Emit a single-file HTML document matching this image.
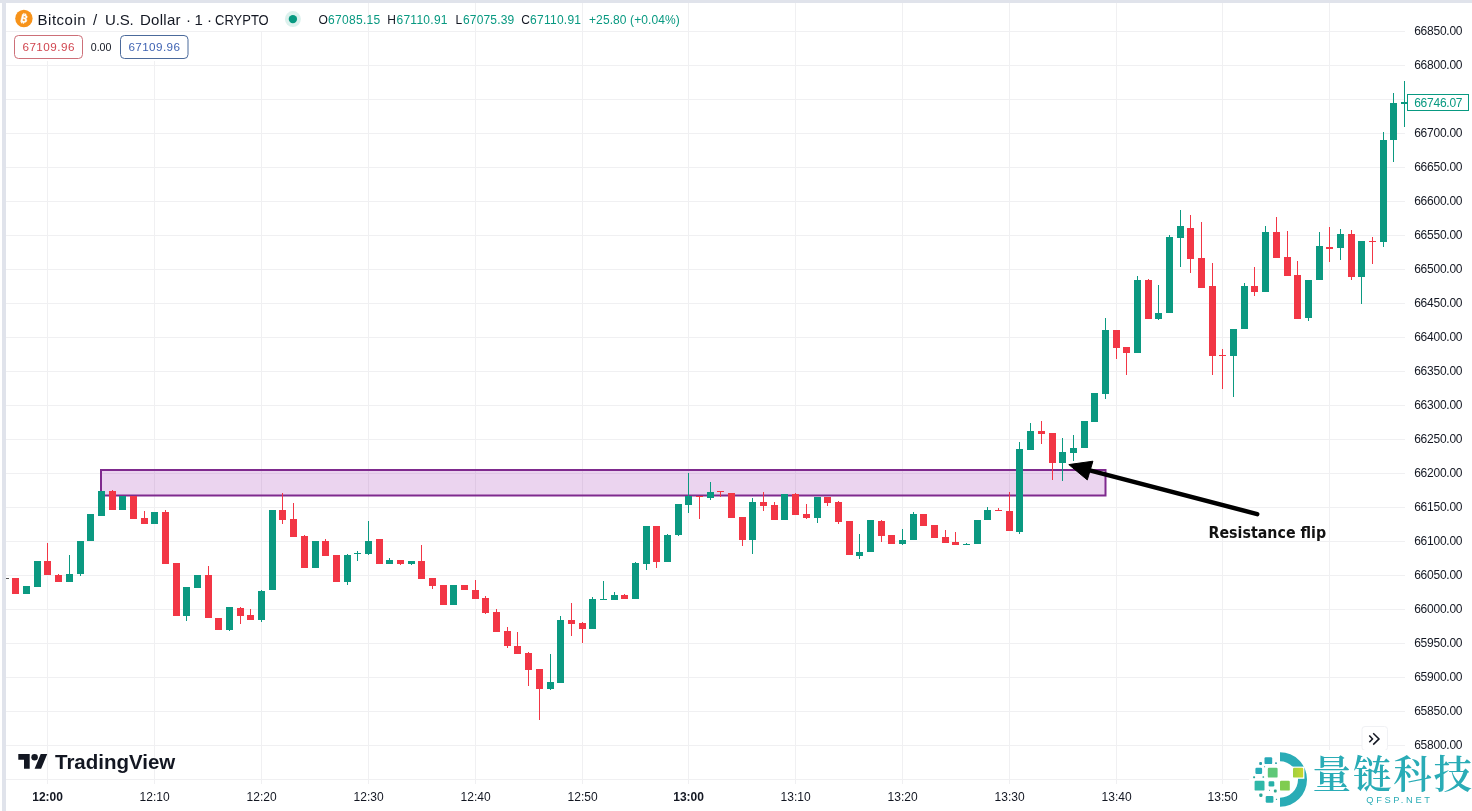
<!DOCTYPE html>
<html lang="en"><head><meta charset="utf-8"><title>BTCUSD chart</title>
<style>
html,body{margin:0;padding:0;background:#fff;}
body{width:1472px;height:811px;overflow:hidden;position:relative;font-family:"Liberation Sans",sans-serif;}
svg{position:absolute;left:0;top:0;display:block}
text{font-family:"Liberation Sans",sans-serif;}
.pl{font-size:12px;fill:#131722;text-anchor:end}
.tl{font-size:12px;fill:#131722;text-anchor:middle}
.oh{font-size:12px;fill:#131722}
.ov{font-size:12px;fill:#089981}
.wm{font-family:"Noto Serif CJK SC","Liberation Serif",serif;font-weight:600;font-size:38.5px;letter-spacing:1.8px;fill:#2aacb6}
.wm2{font-size:9.3px;fill:#2aacb6}
.note{font-family:"DejaVu Sans","Liberation Sans",sans-serif;font-weight:700;font-size:15px;fill:#111}
</style></head><body>
<svg width="1472" height="811" viewBox="0 0 1472 811">
<rect x="0" y="0" width="1472" height="811" fill="#fff"/>
<g fill="#f0f0f2" shape-rendering="crispEdges">
<rect x="6" y="31" width="1399" height="1"/>
<rect x="6" y="65" width="1399" height="1"/>
<rect x="6" y="99" width="1399" height="1"/>
<rect x="6" y="133" width="1399" height="1"/>
<rect x="6" y="167" width="1399" height="1"/>
<rect x="6" y="201" width="1399" height="1"/>
<rect x="6" y="235" width="1399" height="1"/>
<rect x="6" y="269" width="1399" height="1"/>
<rect x="6" y="303" width="1399" height="1"/>
<rect x="6" y="337" width="1399" height="1"/>
<rect x="6" y="371" width="1399" height="1"/>
<rect x="6" y="405" width="1399" height="1"/>
<rect x="6" y="439" width="1399" height="1"/>
<rect x="6" y="473" width="1399" height="1"/>
<rect x="6" y="507" width="1399" height="1"/>
<rect x="6" y="541" width="1399" height="1"/>
<rect x="6" y="575" width="1399" height="1"/>
<rect x="6" y="609" width="1399" height="1"/>
<rect x="6" y="643" width="1399" height="1"/>
<rect x="6" y="677" width="1399" height="1"/>
<rect x="6" y="711" width="1399" height="1"/>
<rect x="6" y="745" width="1399" height="1"/>
<rect x="6" y="779" width="1399" height="1"/>
<rect x="47" y="3" width="1" height="781"/>
<rect x="154" y="3" width="1" height="781"/>
<rect x="261" y="3" width="1" height="781"/>
<rect x="368" y="3" width="1" height="781"/>
<rect x="475" y="3" width="1" height="781"/>
<rect x="582" y="3" width="1" height="781"/>
<rect x="688" y="3" width="1" height="781"/>
<rect x="795" y="3" width="1" height="781"/>
<rect x="902" y="3" width="1" height="781"/>
<rect x="1009" y="3" width="1" height="781"/>
<rect x="1116" y="3" width="1" height="781"/>
<rect x="1222" y="3" width="1" height="781"/>
<rect x="1329" y="3" width="1" height="781"/>
</g>
<rect x="0" y="0" width="1472" height="3" fill="#e0e3eb"/>
<rect x="2" y="3" width="4" height="808" fill="#e0e3eb"/>
<rect x="101" y="470" width="1004.5" height="25.5" fill="rgba(156,39,176,0.2)" stroke="#7f2a8e" stroke-width="2"/>
<g shape-rendering="crispEdges">
<rect x="6" y="578" width="3" height="1" fill="#555"/>
<rect x="15" y="578" width="1" height="16" fill="#f23645"/>
<rect x="12" y="578" width="7" height="16" fill="#f23645"/>
<rect x="26" y="586" width="1" height="8" fill="#0b9981"/>
<rect x="23" y="586" width="7" height="8" fill="#0b9981"/>
<rect x="37" y="561" width="1" height="26" fill="#0b9981"/>
<rect x="34" y="561" width="7" height="26" fill="#0b9981"/>
<rect x="47" y="543" width="1" height="32" fill="#f23645"/>
<rect x="44" y="561" width="7" height="14" fill="#f23645"/>
<rect x="58" y="574" width="1" height="8" fill="#f23645"/>
<rect x="55" y="575" width="7" height="7" fill="#f23645"/>
<rect x="69" y="555" width="1" height="27" fill="#0b9981"/>
<rect x="66" y="574" width="7" height="8" fill="#0b9981"/>
<rect x="80" y="541" width="1" height="35" fill="#0b9981"/>
<rect x="77" y="541" width="7" height="33" fill="#0b9981"/>
<rect x="90" y="514" width="1" height="27" fill="#0b9981"/>
<rect x="87" y="514" width="7" height="27" fill="#0b9981"/>
<rect x="101" y="491" width="1" height="25" fill="#0b9981"/>
<rect x="98" y="491" width="7" height="25" fill="#0b9981"/>
<rect x="112" y="490" width="1" height="20" fill="#f23645"/>
<rect x="109" y="491" width="7" height="19" fill="#f23645"/>
<rect x="122" y="496" width="1" height="14" fill="#0b9981"/>
<rect x="119" y="496" width="7" height="14" fill="#0b9981"/>
<rect x="133" y="496" width="1" height="23" fill="#f23645"/>
<rect x="130" y="496" width="7" height="23" fill="#f23645"/>
<rect x="144" y="511" width="1" height="13" fill="#f23645"/>
<rect x="141" y="518" width="7" height="6" fill="#f23645"/>
<rect x="154" y="512" width="1" height="12" fill="#0b9981"/>
<rect x="151" y="512" width="7" height="12" fill="#0b9981"/>
<rect x="165" y="510" width="1" height="54" fill="#f23645"/>
<rect x="162" y="512" width="7" height="52" fill="#f23645"/>
<rect x="176" y="563" width="1" height="53" fill="#f23645"/>
<rect x="173" y="563" width="7" height="53" fill="#f23645"/>
<rect x="186" y="587" width="1" height="34" fill="#0b9981"/>
<rect x="183" y="587" width="7" height="29" fill="#0b9981"/>
<rect x="197" y="575" width="1" height="13" fill="#0b9981"/>
<rect x="194" y="575" width="7" height="13" fill="#0b9981"/>
<rect x="208" y="566" width="1" height="52" fill="#f23645"/>
<rect x="205" y="575" width="7" height="43" fill="#f23645"/>
<rect x="218" y="618" width="1" height="12" fill="#f23645"/>
<rect x="215" y="618" width="7" height="12" fill="#f23645"/>
<rect x="229" y="607" width="1" height="24" fill="#0b9981"/>
<rect x="226" y="607" width="7" height="23" fill="#0b9981"/>
<rect x="240" y="607" width="1" height="17" fill="#f23645"/>
<rect x="237" y="608" width="7" height="8" fill="#f23645"/>
<rect x="250" y="609" width="1" height="11" fill="#f23645"/>
<rect x="247" y="615" width="7" height="5" fill="#f23645"/>
<rect x="261" y="590" width="1" height="32" fill="#0b9981"/>
<rect x="258" y="591" width="7" height="29" fill="#0b9981"/>
<rect x="272" y="510" width="1" height="80" fill="#0b9981"/>
<rect x="269" y="510" width="7" height="80" fill="#0b9981"/>
<rect x="282" y="493" width="1" height="31" fill="#f23645"/>
<rect x="279" y="510" width="7" height="10" fill="#f23645"/>
<rect x="293" y="503" width="1" height="34" fill="#f23645"/>
<rect x="290" y="519" width="7" height="18" fill="#f23645"/>
<rect x="304" y="535" width="1" height="33" fill="#f23645"/>
<rect x="301" y="536" width="7" height="32" fill="#f23645"/>
<rect x="315" y="541" width="1" height="27" fill="#0b9981"/>
<rect x="312" y="541" width="7" height="27" fill="#0b9981"/>
<rect x="325" y="539" width="1" height="17" fill="#f23645"/>
<rect x="322" y="541" width="7" height="15" fill="#f23645"/>
<rect x="336" y="555" width="1" height="27" fill="#f23645"/>
<rect x="333" y="555" width="7" height="27" fill="#f23645"/>
<rect x="347" y="554" width="1" height="31" fill="#0b9981"/>
<rect x="344" y="555" width="7" height="27" fill="#0b9981"/>
<rect x="357" y="551" width="1" height="10" fill="#0b9981"/>
<rect x="354" y="553" width="7" height="1" fill="#0b9981"/>
<rect x="368" y="521" width="1" height="34" fill="#0b9981"/>
<rect x="365" y="541" width="7" height="13" fill="#0b9981"/>
<rect x="379" y="539" width="1" height="25" fill="#f23645"/>
<rect x="376" y="539" width="7" height="25" fill="#f23645"/>
<rect x="389" y="558" width="1" height="6" fill="#0b9981"/>
<rect x="386" y="560" width="7" height="4" fill="#0b9981"/>
<rect x="400" y="560" width="1" height="5" fill="#f23645"/>
<rect x="397" y="560" width="7" height="4" fill="#f23645"/>
<rect x="411" y="561" width="1" height="4" fill="#0b9981"/>
<rect x="408" y="561" width="7" height="3" fill="#0b9981"/>
<rect x="421" y="545" width="1" height="34" fill="#f23645"/>
<rect x="418" y="561" width="7" height="18" fill="#f23645"/>
<rect x="432" y="578" width="1" height="11" fill="#f23645"/>
<rect x="429" y="578" width="7" height="8" fill="#f23645"/>
<rect x="443" y="585" width="1" height="20" fill="#f23645"/>
<rect x="440" y="585" width="7" height="20" fill="#f23645"/>
<rect x="453" y="585" width="1" height="20" fill="#0b9981"/>
<rect x="450" y="585" width="7" height="20" fill="#0b9981"/>
<rect x="464" y="585" width="1" height="5" fill="#f23645"/>
<rect x="461" y="585" width="7" height="5" fill="#f23645"/>
<rect x="475" y="580" width="1" height="19" fill="#f23645"/>
<rect x="472" y="590" width="7" height="9" fill="#f23645"/>
<rect x="485" y="596" width="1" height="18" fill="#f23645"/>
<rect x="482" y="598" width="7" height="15" fill="#f23645"/>
<rect x="496" y="609" width="1" height="23" fill="#f23645"/>
<rect x="493" y="612" width="7" height="20" fill="#f23645"/>
<rect x="507" y="627" width="1" height="21" fill="#f23645"/>
<rect x="504" y="631" width="7" height="15" fill="#f23645"/>
<rect x="517" y="632" width="1" height="22" fill="#f23645"/>
<rect x="514" y="646" width="7" height="8" fill="#f23645"/>
<rect x="528" y="652" width="1" height="34" fill="#f23645"/>
<rect x="525" y="653" width="7" height="17" fill="#f23645"/>
<rect x="539" y="669" width="1" height="51" fill="#f23645"/>
<rect x="536" y="669" width="7" height="20" fill="#f23645"/>
<rect x="550" y="654" width="1" height="36" fill="#0b9981"/>
<rect x="547" y="682" width="7" height="7" fill="#0b9981"/>
<rect x="560" y="616" width="1" height="67" fill="#0b9981"/>
<rect x="557" y="620" width="7" height="63" fill="#0b9981"/>
<rect x="571" y="603" width="1" height="33" fill="#f23645"/>
<rect x="568" y="620" width="7" height="4" fill="#f23645"/>
<rect x="582" y="622" width="1" height="21" fill="#f23645"/>
<rect x="579" y="623" width="7" height="6" fill="#f23645"/>
<rect x="592" y="597" width="1" height="32" fill="#0b9981"/>
<rect x="589" y="599" width="7" height="30" fill="#0b9981"/>
<rect x="603" y="581" width="1" height="19" fill="#0b9981"/>
<rect x="600" y="599" width="7" height="1" fill="#0b9981"/>
<rect x="614" y="592" width="1" height="8" fill="#0b9981"/>
<rect x="611" y="595" width="7" height="5" fill="#0b9981"/>
<rect x="624" y="594" width="1" height="5" fill="#f23645"/>
<rect x="621" y="595" width="7" height="4" fill="#f23645"/>
<rect x="635" y="562" width="1" height="37" fill="#0b9981"/>
<rect x="632" y="563" width="7" height="36" fill="#0b9981"/>
<rect x="646" y="526" width="1" height="44" fill="#0b9981"/>
<rect x="643" y="526" width="7" height="38" fill="#0b9981"/>
<rect x="656" y="526" width="1" height="42" fill="#f23645"/>
<rect x="653" y="526" width="7" height="36" fill="#f23645"/>
<rect x="667" y="534" width="1" height="28" fill="#0b9981"/>
<rect x="664" y="535" width="7" height="27" fill="#0b9981"/>
<rect x="678" y="504" width="1" height="32" fill="#0b9981"/>
<rect x="675" y="504" width="7" height="31" fill="#0b9981"/>
<rect x="688" y="473" width="1" height="40" fill="#0b9981"/>
<rect x="685" y="496" width="7" height="9" fill="#0b9981"/>
<rect x="699" y="496" width="1" height="23" fill="#f23645"/>
<rect x="696" y="496" width="7" height="1" fill="#f23645"/>
<rect x="710" y="482" width="1" height="18" fill="#0b9981"/>
<rect x="707" y="492" width="7" height="6" fill="#0b9981"/>
<rect x="720" y="491" width="1" height="6" fill="#f23645"/>
<rect x="717" y="491" width="7" height="1" fill="#f23645"/>
<rect x="731" y="493" width="1" height="25" fill="#f23645"/>
<rect x="728" y="493" width="7" height="25" fill="#f23645"/>
<rect x="742" y="517" width="1" height="29" fill="#f23645"/>
<rect x="739" y="517" width="7" height="23" fill="#f23645"/>
<rect x="752" y="498" width="1" height="56" fill="#0b9981"/>
<rect x="749" y="502" width="7" height="38" fill="#0b9981"/>
<rect x="763" y="492" width="1" height="19" fill="#f23645"/>
<rect x="760" y="502" width="7" height="4" fill="#f23645"/>
<rect x="774" y="502" width="1" height="18" fill="#f23645"/>
<rect x="771" y="505" width="7" height="15" fill="#f23645"/>
<rect x="784" y="494" width="1" height="26" fill="#0b9981"/>
<rect x="781" y="494" width="7" height="26" fill="#0b9981"/>
<rect x="795" y="493" width="1" height="22" fill="#f23645"/>
<rect x="792" y="494" width="7" height="21" fill="#f23645"/>
<rect x="806" y="504" width="1" height="15" fill="#f23645"/>
<rect x="803" y="514" width="7" height="4" fill="#f23645"/>
<rect x="817" y="497" width="1" height="26" fill="#0b9981"/>
<rect x="814" y="497" width="7" height="21" fill="#0b9981"/>
<rect x="827" y="497" width="1" height="9" fill="#f23645"/>
<rect x="824" y="497" width="7" height="6" fill="#f23645"/>
<rect x="838" y="501" width="1" height="23" fill="#f23645"/>
<rect x="835" y="502" width="7" height="20" fill="#f23645"/>
<rect x="849" y="521" width="1" height="34" fill="#f23645"/>
<rect x="846" y="521" width="7" height="34" fill="#f23645"/>
<rect x="859" y="534" width="1" height="25" fill="#0b9981"/>
<rect x="856" y="552" width="7" height="4" fill="#0b9981"/>
<rect x="870" y="520" width="1" height="32" fill="#0b9981"/>
<rect x="867" y="520" width="7" height="32" fill="#0b9981"/>
<rect x="881" y="520" width="1" height="22" fill="#f23645"/>
<rect x="878" y="521" width="7" height="15" fill="#f23645"/>
<rect x="891" y="535" width="1" height="9" fill="#f23645"/>
<rect x="888" y="535" width="7" height="9" fill="#f23645"/>
<rect x="902" y="529" width="1" height="16" fill="#0b9981"/>
<rect x="899" y="540" width="7" height="4" fill="#0b9981"/>
<rect x="913" y="512" width="1" height="28" fill="#0b9981"/>
<rect x="910" y="514" width="7" height="26" fill="#0b9981"/>
<rect x="923" y="514" width="1" height="12" fill="#f23645"/>
<rect x="920" y="514" width="7" height="12" fill="#f23645"/>
<rect x="934" y="525" width="1" height="13" fill="#f23645"/>
<rect x="931" y="525" width="7" height="13" fill="#f23645"/>
<rect x="945" y="530" width="1" height="13" fill="#f23645"/>
<rect x="942" y="537" width="7" height="6" fill="#f23645"/>
<rect x="955" y="532" width="1" height="13" fill="#f23645"/>
<rect x="952" y="542" width="7" height="3" fill="#f23645"/>
<rect x="966" y="543" width="1" height="2" fill="#0b9981"/>
<rect x="963" y="544" width="7" height="1" fill="#0b9981"/>
<rect x="977" y="520" width="1" height="24" fill="#0b9981"/>
<rect x="974" y="520" width="7" height="24" fill="#0b9981"/>
<rect x="987" y="507" width="1" height="13" fill="#0b9981"/>
<rect x="984" y="510" width="7" height="10" fill="#0b9981"/>
<rect x="998" y="508" width="1" height="3" fill="#f23645"/>
<rect x="995" y="510" width="7" height="1" fill="#f23645"/>
<rect x="1009" y="492" width="1" height="39" fill="#f23645"/>
<rect x="1006" y="511" width="7" height="20" fill="#f23645"/>
<rect x="1019" y="442" width="1" height="92" fill="#0b9981"/>
<rect x="1016" y="449" width="7" height="83" fill="#0b9981"/>
<rect x="1030" y="423" width="1" height="27" fill="#0b9981"/>
<rect x="1027" y="431" width="7" height="19" fill="#0b9981"/>
<rect x="1041" y="421" width="1" height="23" fill="#f23645"/>
<rect x="1038" y="431" width="7" height="3" fill="#f23645"/>
<rect x="1052" y="433" width="1" height="47" fill="#f23645"/>
<rect x="1049" y="433" width="7" height="30" fill="#f23645"/>
<rect x="1062" y="438" width="1" height="43" fill="#0b9981"/>
<rect x="1059" y="452" width="7" height="11" fill="#0b9981"/>
<rect x="1073" y="435" width="1" height="26" fill="#0b9981"/>
<rect x="1070" y="448" width="7" height="5" fill="#0b9981"/>
<rect x="1084" y="421" width="1" height="27" fill="#0b9981"/>
<rect x="1081" y="421" width="7" height="27" fill="#0b9981"/>
<rect x="1094" y="393" width="1" height="29" fill="#0b9981"/>
<rect x="1091" y="393" width="7" height="29" fill="#0b9981"/>
<rect x="1105" y="318" width="1" height="81" fill="#0b9981"/>
<rect x="1102" y="330" width="7" height="64" fill="#0b9981"/>
<rect x="1116" y="330" width="1" height="29" fill="#f23645"/>
<rect x="1113" y="330" width="7" height="18" fill="#f23645"/>
<rect x="1126" y="347" width="1" height="28" fill="#f23645"/>
<rect x="1123" y="347" width="7" height="6" fill="#f23645"/>
<rect x="1137" y="276" width="1" height="77" fill="#0b9981"/>
<rect x="1134" y="280" width="7" height="73" fill="#0b9981"/>
<rect x="1148" y="279" width="1" height="40" fill="#f23645"/>
<rect x="1145" y="280" width="7" height="39" fill="#f23645"/>
<rect x="1158" y="285" width="1" height="35" fill="#0b9981"/>
<rect x="1155" y="313" width="7" height="6" fill="#0b9981"/>
<rect x="1169" y="235" width="1" height="78" fill="#0b9981"/>
<rect x="1166" y="237" width="7" height="76" fill="#0b9981"/>
<rect x="1180" y="210" width="1" height="57" fill="#0b9981"/>
<rect x="1177" y="226" width="7" height="12" fill="#0b9981"/>
<rect x="1190" y="215" width="1" height="58" fill="#f23645"/>
<rect x="1187" y="228" width="7" height="31" fill="#f23645"/>
<rect x="1201" y="222" width="1" height="66" fill="#f23645"/>
<rect x="1198" y="258" width="7" height="30" fill="#f23645"/>
<rect x="1212" y="263" width="1" height="112" fill="#f23645"/>
<rect x="1209" y="286" width="7" height="70" fill="#f23645"/>
<rect x="1222" y="349" width="1" height="40" fill="#f23645"/>
<rect x="1219" y="355" width="7" height="1" fill="#f23645"/>
<rect x="1233" y="329" width="1" height="68" fill="#0b9981"/>
<rect x="1230" y="329" width="7" height="27" fill="#0b9981"/>
<rect x="1244" y="283" width="1" height="46" fill="#0b9981"/>
<rect x="1241" y="286" width="7" height="43" fill="#0b9981"/>
<rect x="1254" y="267" width="1" height="29" fill="#f23645"/>
<rect x="1251" y="286" width="7" height="6" fill="#f23645"/>
<rect x="1265" y="226" width="1" height="66" fill="#0b9981"/>
<rect x="1262" y="232" width="7" height="60" fill="#0b9981"/>
<rect x="1276" y="217" width="1" height="41" fill="#f23645"/>
<rect x="1273" y="232" width="7" height="26" fill="#f23645"/>
<rect x="1287" y="231" width="1" height="45" fill="#f23645"/>
<rect x="1284" y="257" width="7" height="19" fill="#f23645"/>
<rect x="1297" y="261" width="1" height="58" fill="#f23645"/>
<rect x="1294" y="275" width="7" height="44" fill="#f23645"/>
<rect x="1308" y="280" width="1" height="41" fill="#0b9981"/>
<rect x="1305" y="280" width="7" height="38" fill="#0b9981"/>
<rect x="1319" y="232" width="1" height="48" fill="#0b9981"/>
<rect x="1316" y="246" width="7" height="34" fill="#0b9981"/>
<rect x="1329" y="227" width="1" height="35" fill="#f23645"/>
<rect x="1326" y="247" width="7" height="2" fill="#f23645"/>
<rect x="1340" y="229" width="1" height="31" fill="#0b9981"/>
<rect x="1337" y="234" width="7" height="14" fill="#0b9981"/>
<rect x="1351" y="230" width="1" height="50" fill="#f23645"/>
<rect x="1348" y="234" width="7" height="43" fill="#f23645"/>
<rect x="1361" y="241" width="1" height="63" fill="#0b9981"/>
<rect x="1358" y="241" width="7" height="36" fill="#0b9981"/>
<rect x="1372" y="237" width="1" height="27" fill="#f23645"/>
<rect x="1369" y="241" width="7" height="1" fill="#f23645"/>
<rect x="1383" y="132" width="1" height="115" fill="#0b9981"/>
<rect x="1380" y="140" width="7" height="102" fill="#0b9981"/>
<rect x="1393" y="93" width="1" height="69" fill="#0b9981"/>
<rect x="1390" y="103" width="7" height="37" fill="#0b9981"/>
<rect x="1404" y="81" width="1" height="46" fill="#0b9981"/>
<rect x="1401" y="102" width="7" height="2" fill="#0b9981"/>
</g>
<line x1="1257.2" y1="514.1" x2="1085" y2="469.1" stroke="#000" stroke-width="4.5" stroke-linecap="round"/>
<path d="M1068.8 464.6L1092.9 461.2L1087.3 479.9Z" fill="#000" stroke="#000" stroke-width="1" stroke-linejoin="round"/>
<text class="note" x="1208.5" y="538" textLength="117.6" lengthAdjust="spacingAndGlyphs">Resistance flip</text>
<rect x="1406" y="0" width="66" height="811" fill="#fff" opacity="0"/>
<text class="pl" x="1462.5" y="34.8" textLength="48.3" lengthAdjust="spacing">66850.00</text>
<text class="pl" x="1462.5" y="68.8" textLength="48.3" lengthAdjust="spacing">66800.00</text>
<text class="pl" x="1462.5" y="102.8" textLength="48.3" lengthAdjust="spacing">66750.00</text>
<text class="pl" x="1462.5" y="136.8" textLength="48.3" lengthAdjust="spacing">66700.00</text>
<text class="pl" x="1462.5" y="170.8" textLength="48.3" lengthAdjust="spacing">66650.00</text>
<text class="pl" x="1462.5" y="204.8" textLength="48.3" lengthAdjust="spacing">66600.00</text>
<text class="pl" x="1462.5" y="238.8" textLength="48.3" lengthAdjust="spacing">66550.00</text>
<text class="pl" x="1462.5" y="272.8" textLength="48.3" lengthAdjust="spacing">66500.00</text>
<text class="pl" x="1462.5" y="306.8" textLength="48.3" lengthAdjust="spacing">66450.00</text>
<text class="pl" x="1462.5" y="340.8" textLength="48.3" lengthAdjust="spacing">66400.00</text>
<text class="pl" x="1462.5" y="374.8" textLength="48.3" lengthAdjust="spacing">66350.00</text>
<text class="pl" x="1462.5" y="408.8" textLength="48.3" lengthAdjust="spacing">66300.00</text>
<text class="pl" x="1462.5" y="442.8" textLength="48.3" lengthAdjust="spacing">66250.00</text>
<text class="pl" x="1462.5" y="476.8" textLength="48.3" lengthAdjust="spacing">66200.00</text>
<text class="pl" x="1462.5" y="510.8" textLength="48.3" lengthAdjust="spacing">66150.00</text>
<text class="pl" x="1462.5" y="544.8" textLength="48.3" lengthAdjust="spacing">66100.00</text>
<text class="pl" x="1462.5" y="578.8" textLength="48.3" lengthAdjust="spacing">66050.00</text>
<text class="pl" x="1462.5" y="612.8" textLength="48.3" lengthAdjust="spacing">66000.00</text>
<text class="pl" x="1462.5" y="646.8" textLength="48.3" lengthAdjust="spacing">65950.00</text>
<text class="pl" x="1462.5" y="680.8" textLength="48.3" lengthAdjust="spacing">65900.00</text>
<text class="pl" x="1462.5" y="714.8" textLength="48.3" lengthAdjust="spacing">65850.00</text>
<text class="pl" x="1462.5" y="748.8" textLength="48.3" lengthAdjust="spacing">65800.00</text>
<rect x="1407.5" y="94.5" width="61" height="16" fill="#fff" stroke="#089981" stroke-width="1"/>
<text class="pl" x="1462.5" y="106.6" textLength="48.3" lengthAdjust="spacing" style="fill:#089981">66746.07</text>
<text class="tl" x="47.6" y="800.7" font-weight="700">12:00</text>
<text class="tl" x="154.6" y="800.7">12:10</text>
<text class="tl" x="261.6" y="800.7">12:20</text>
<text class="tl" x="368.6" y="800.7">12:30</text>
<text class="tl" x="475.6" y="800.7">12:40</text>
<text class="tl" x="582.6" y="800.7">12:50</text>
<text class="tl" x="688.6" y="800.7" font-weight="700">13:00</text>
<text class="tl" x="795.6" y="800.7">13:10</text>
<text class="tl" x="902.6" y="800.7">13:20</text>
<text class="tl" x="1009.6" y="800.7">13:30</text>
<text class="tl" x="1116.6" y="800.7">13:40</text>
<text class="tl" x="1222.6" y="800.7">13:50</text>
<rect x="6" y="3" width="296" height="28" fill="#fff"/>
<rect x="6" y="32" width="186" height="29" fill="#fff"/>
<circle cx="23.9" cy="18.5" r="8.7" fill="#f7931a"/>
<g transform="translate(24 18.6) rotate(14) scale(0.9 0.84)" fill="#fff" stroke="#fff" stroke-width="0.45"><path d="M-2.9-4.6h3.3c1.7 0 2.7.9 2.7 2.2 0 1-.6 1.7-1.4 1.9 1.1.2 1.9 1 1.9 2.3 0 1.6-1.2 2.6-3.1 2.6h-3.4zM-1.1-3.2v2.2h1.2c.8 0 1.3-.4 1.3-1.1s-.5-1.1-1.3-1.1zM-1.1.3v2.7h1.4c.9 0 1.5-.5 1.5-1.4 0-.8-.6-1.3-1.5-1.3z" fill-rule="evenodd"/><rect x="-1.9" y="-6" width="1" height="1.6"/><rect x="0.1" y="-6" width="1" height="1.6"/><rect x="-1.9" y="4.2" width="1" height="1.6"/><rect x="0.1" y="4.2" width="1" height="1.6"/></g>
<text y="24.7" font-size="15" fill="#131722"><tspan x="37.5" textLength="48.2" lengthAdjust="spacing">Bitcoin</tspan> <tspan x="93">/</tspan> <tspan x="105" textLength="28.7" lengthAdjust="spacing">U.S.</tspan> <tspan x="140" textLength="40.5" lengthAdjust="spacing">Dollar</tspan> <tspan x="186">·</tspan> <tspan x="194.5">1</tspan> <tspan x="207">·</tspan> <tspan x="215" textLength="53.7" lengthAdjust="spacingAndGlyphs">CRYPTO</tspan></text>
<circle cx="292.9" cy="19.1" r="8" fill="#089981" opacity="0.14"/>
<circle cx="292.9" cy="19.1" r="4.2" fill="#089981"/>
<text class="oh" x="318.6" y="23.7">O</text>
<text class="ov" x="328.0" y="23.7" textLength="52.3" lengthAdjust="spacing">67085.15</text>
<text class="oh" x="387.3" y="23.7">H</text>
<text class="ov" x="396.5" y="23.7" textLength="51.0" lengthAdjust="spacing">67110.91</text>
<text class="oh" x="455.5" y="23.7">L</text>
<text class="ov" x="463.0" y="23.7" textLength="51.2" lengthAdjust="spacing">67075.39</text>
<text class="oh" x="521.3" y="23.7">C</text>
<text class="ov" x="530.1" y="23.7" textLength="50.9" lengthAdjust="spacing">67110.91</text>
<text class="ov" x="589" y="23.7" textLength="90.8" lengthAdjust="spacing">+25.80 (+0.04%)</text>
<rect x="14.5" y="35.5" width="68" height="23" rx="4" fill="#fff" stroke="#cd6f78" stroke-width="1"/>
<text x="22.4" y="51.4" font-size="11.7" fill="#d1454f" textLength="52.1" lengthAdjust="spacing">67109.96</text>
<text x="90.8" y="50.8" font-size="10.6" fill="#131722" textLength="20.6" lengthAdjust="spacing">0.00</text>
<rect x="120.5" y="35.5" width="67.5" height="23" rx="4" fill="#fff" stroke="#4b6a9b" stroke-width="1"/>
<text x="128.4" y="51.4" font-size="11.7" fill="#3f63b3" textLength="51.6" lengthAdjust="spacing">67109.96</text>
<g transform="translate(18.3 750.8) scale(0.815)" fill="#131722"><path d="M14 22H7V11H0V4h14v18zM28 22h-8l7.5-18h8L28 22z"/><circle cx="20" cy="8" r="4"/></g>
<text x="55" y="768.8" font-size="20.5" font-weight="700" fill="#131722" textLength="120.3" lengthAdjust="spacingAndGlyphs">TradingView</text>
<rect x="1362" y="726.5" width="25.5" height="24" rx="3" fill="#fff" stroke="#f0f1f4" stroke-width="1"/>
<path d="M1369.3 735.6l3.2 3.3-3.2 3.3M1373.2 733.2l5.8 5.7-5.8 5.7" fill="none" stroke="#131722" stroke-width="1.5"/>
<g id="wm">
<rect x="1249" y="750" width="223" height="61" fill="#fff"/>
<path d="M1280 752.3a27 27.2 0 0 1 0 54.4v-9a18 18.2 0 0 0 0-36.4z" fill="#2aacb6"/>
<rect x="1291.8" y="766.6" width="12.6" height="12.2" fill="#fff"/>
<defs><linearGradient id="lg" x1="0" y1="0" x2="1" y2="0"><stop offset="0" stop-color="#9fd040"/><stop offset="1" stop-color="#c8d62e"/></linearGradient></defs>
<rect x="1264.5" y="757.2" width="7.7" height="6.9" rx="1.2" fill="#27a9b8"/>
<rect x="1255.4" y="767.8" width="6.7" height="6.1" rx="1.2" fill="#27adb8"/>
<rect x="1267.8" y="767.8" width="9.8" height="9.8" rx="1.2" fill="#5fc878"/>
<rect x="1293.0" y="767.8" width="10.2" height="9.8" rx="1.2" fill="url(#lg)"/>
<rect x="1254.6" y="780.8" width="9.9" height="9.8" rx="1.2" fill="#30b8a8"/>
<rect x="1268.6" y="781.2" width="5.7" height="5.3" rx="1.2" fill="#28b0a8"/>
<rect x="1280.0" y="780.8" width="9.8" height="9.8" rx="1.2" fill="#80cc50"/>
<rect x="1265.7" y="795.9" width="7.7" height="6.9" rx="1.2" fill="#27b0b0"/>
<rect x="1259.2" y="762.1" width="2.8" height="2.8" rx="0.9" fill="#2a9fa8"/>
<rect x="1275.1" y="762.3" width="1.8" height="1.8" rx="0.6" fill="#2a9fa8"/>
<rect x="1253.1" y="776.3" width="2.0" height="2.0" rx="0.7" fill="#2aa89a"/>
<rect x="1262.5" y="776.2" width="1.6" height="1.6" rx="0.5" fill="#2aa89a"/>
<rect x="1273.9" y="789.6" width="2.8" height="2.8" rx="0.9" fill="#30a890"/>
<rect x="1259.2" y="793.6" width="3.3" height="3.3" rx="1.1" fill="#2aa89a"/>
<rect x="1275.9" y="798.7" width="1.2" height="1.2" rx="0.4" fill="#2aa89a"/>
<rect x="1269.0" y="789.8" width="1.0" height="1.0" rx="0.3" fill="#2aa89a"/>
<rect x="1264.1" y="766.3" width="1.0" height="1.0" rx="0.3" fill="#2aa89a"/>
<text class="wm" x="1312.6" y="787.9">量链科技</text>
<text class="wm2" x="1366.3" y="803.2" textLength="63.6" lengthAdjust="spacing">QFSP.NET</text>
</g>
</svg></body></html>
